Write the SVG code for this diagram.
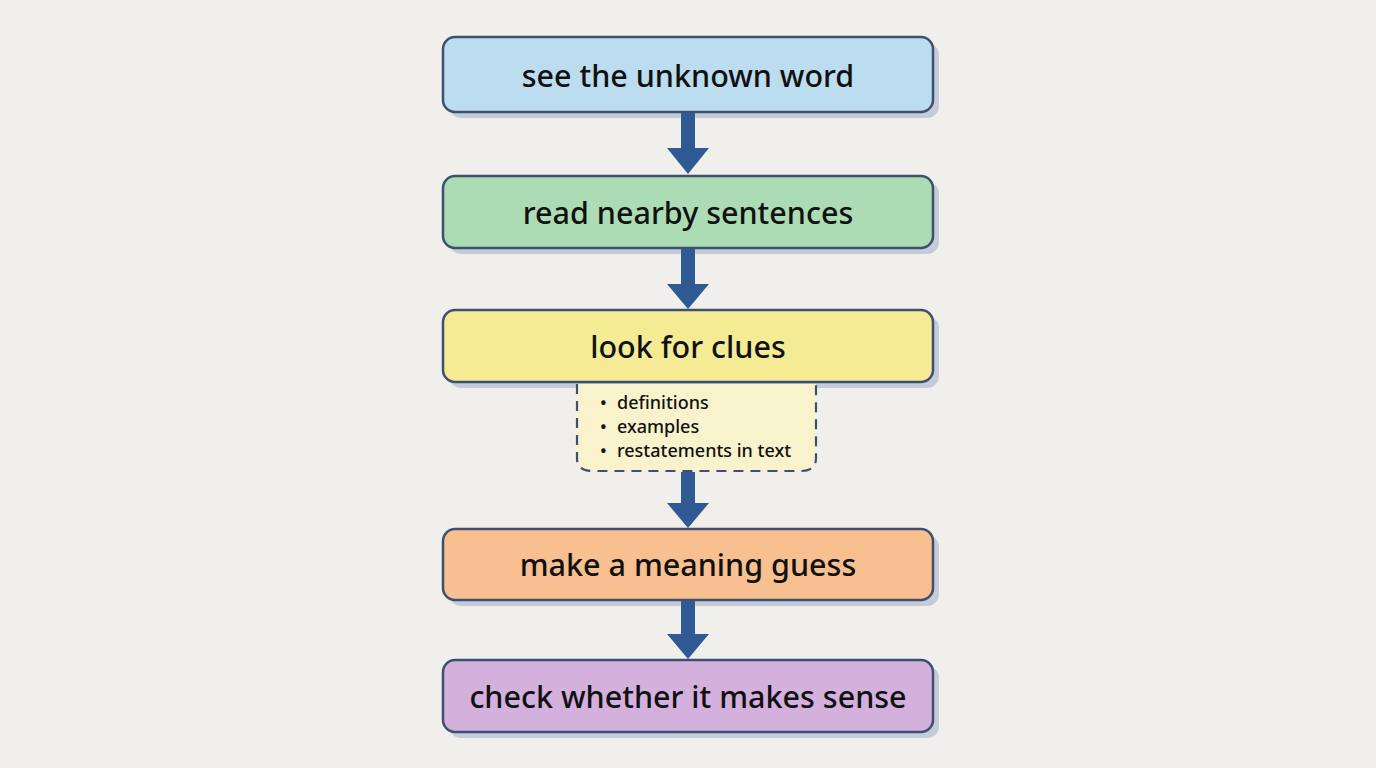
<svg xmlns="http://www.w3.org/2000/svg" width="1376" height="768" viewBox="0 0 1376 768">
<defs>
<style>
.box{stroke:#3e5070;stroke-width:2.5}
.sh{fill:#c5ccd8}
.t{font-family:"Noto Sans","DejaVu Sans",sans-serif;font-size:30.5px;font-weight:500;fill:#111;text-anchor:middle}
.b{font-family:"Noto Sans","DejaVu Sans",sans-serif;font-size:18px;font-weight:500;fill:#111}
.arr{fill:#2f5a94}
</style>
</defs>
<rect width="1376" height="768" fill="#f0efeb"/>
<g id="n1">
<rect class="sh" x="449" y="43" width="490" height="75" rx="12"/>
<rect class="box" x="443" y="37" width="490" height="75" rx="12" fill="#bcdcef"/>
<text class="t" x="688" y="87">see the unknown word</text>
</g>
<g id="n2">
<rect class="sh" x="449" y="182" width="490" height="72" rx="12"/>
<rect class="box" x="443" y="176" width="490" height="72" rx="12" fill="#acdcb4"/>
<text class="t" x="688" y="224">read nearby sentences</text>
</g>
<g id="n3">
<rect class="sh" x="449" y="316" width="490" height="72" rx="12"/>
<rect class="box" x="443" y="310" width="490" height="72" rx="12" fill="#f4eb94"/>
<text class="t" x="688" y="358">look for clues</text>
</g>
<g id="n3-detail">
<path d="M577 384 V458 Q577 471 592 471 H801 Q816 471 816 458 V384" fill="#f8f3cc" stroke="#3e5070" stroke-width="2.2" stroke-dasharray="10 7"/>
<text class="b" x="600" y="409">•</text><text class="b" x="617" y="409">definitions</text>
<text class="b" x="600" y="433">•</text><text class="b" x="617" y="433">examples</text>
<text class="b" x="600" y="457">•</text><text class="b" x="617" y="457">restatements in text</text>
</g>
<g id="n4">
<rect class="sh" x="449" y="535" width="490" height="71" rx="12"/>
<rect class="box" x="443" y="529" width="490" height="71" rx="12" fill="#f8bf90"/>
<text class="t" x="688" y="576">make a meaning guess</text>
</g>
<g id="n5">
<rect class="sh" x="449" y="666" width="490" height="72" rx="12"/>
<rect class="box" x="443" y="660" width="490" height="72" rx="12" fill="#d4b0dc"/>
<text class="t" x="688" y="708">check whether it makes sense</text>
</g>
<g id="connectors">
<path class="arr" d="M681 113 H695 V148 H709 L688 174 L667 148 H681 Z"/>
<path class="arr" d="M681 249 H695 V284 H709 L688 309 L667 284 H681 Z"/>
<path class="arr" d="M681 472 H695 V503 H709 L688 528 L667 503 H681 Z"/>
<path class="arr" d="M681 601 H695 V634 H709 L688 659 L667 634 H681 Z"/>
</g>
</svg>
